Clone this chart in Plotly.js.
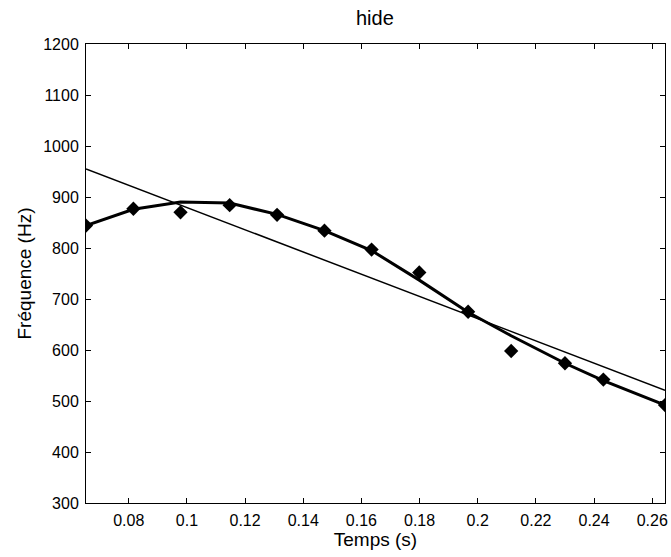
<!DOCTYPE html>
<html><head><meta charset="utf-8">
<script src="https://cdn.plot.ly/plotly-3.0.1.min.js"></script>
<style>html,body{margin:0;padding:0;background:#fff}</style>
</head><body>
<div id="chart" style="width:671px;height:557px"></div>
<script>
// Measured data points (time in s, frequency in Hz)
const timeS = [0.0653, 0.0816, 0.0978, 0.1147, 0.1310, 0.1473, 0.1635, 0.1799, 0.1967, 0.2115, 0.2300, 0.2432, 0.2644];
const freqHz = [844, 877, 870, 884, 865, 834, 797, 752, 675, 598, 574, 542, 492];
// Polynomial fit values read at the same times
const curveFitHz = [844, 876, 890, 888, 866, 834, 795, 737, 674, 628, 574, 540, 492];
// Linear fit end values
const lineFitT = [0.0653, 0.2644];
const lineFitHz = [955, 521];

const font = {family: 'Liberation Sans, Arial, sans-serif', color: '#000'};

const traces = [
  {x: lineFitT, y: lineFitHz, mode: 'lines', line: {color: '#000', width: 1.5}, hoverinfo: 'skip'},
  {x: timeS, y: curveFitHz, mode: 'lines', line: {color: '#000', width: 3}, hoverinfo: 'skip'},
  {x: timeS, y: freqHz, mode: 'markers', marker: {symbol: 'diamond', size: 11, color: '#000'}}
];

const axisCommon = {
  showline: true, linecolor: '#000', linewidth: 1, mirror: 'ticks',
  ticks: 'inside', ticklen: 5, tickcolor: '#000', tickwidth: 1,
  showgrid: false, zeroline: false, ticklabelstandoff: 3,
  tickfont: Object.assign({size: 16}, font)
};

const layout = {
  width: 671, height: 557,
  margin: {l: 86, r: 6, t: 44, b: 54},
  paper_bgcolor: '#fff', plot_bgcolor: '#fff',
  showlegend: false,
  title: {text: 'hide', font: Object.assign({size: 20}, font), x: 0.5587, xanchor: 'center', y: 0.968, yanchor: 'middle'},
  xaxis: Object.assign({}, axisCommon, {
    range: [0.0653, 0.2644], dtick: 0.02, tick0: 0,
    title: {text: 'Temps (s)', font: Object.assign({size: 19}, font), standoff: 4}
  }),
  yaxis: Object.assign({}, axisCommon, {
    range: [300, 1200], dtick: 100, tick0: 0,
    title: {text: 'Fréquence (Hz)', font: Object.assign({size: 19}, font), standoff: 6}
  })
};

Plotly.newPlot('chart', traces, layout, {displayModeBar: false, staticPlot: true});
</script>
</body></html>
